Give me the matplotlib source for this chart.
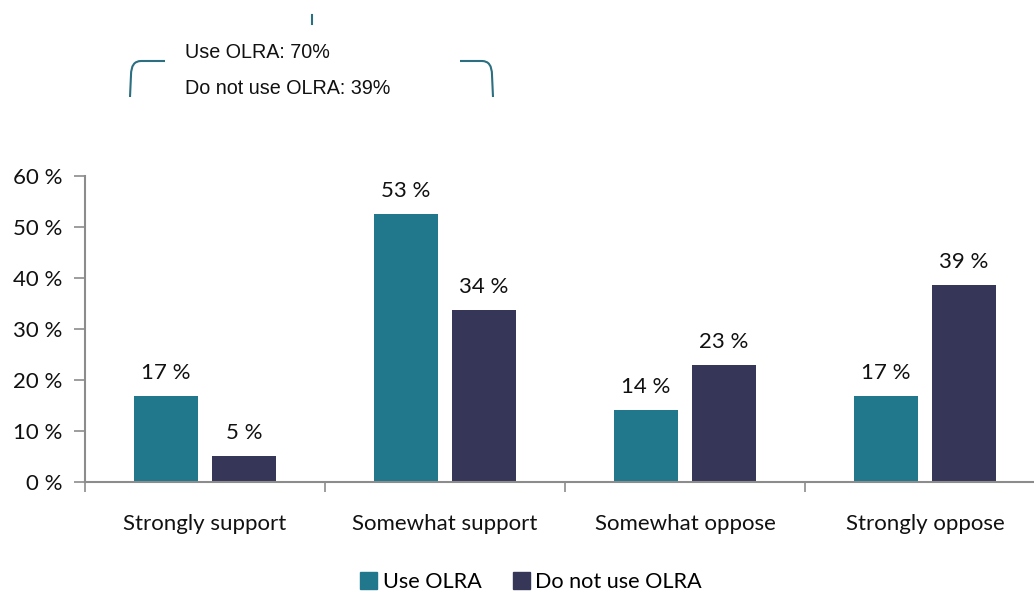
import matplotlib
matplotlib.use("Agg")
import matplotlib.pyplot as plt
from matplotlib.path import Path
from matplotlib.patches import PathPatch, Patch
import numpy as np

categories = ["Strongly support", "Somewhat support", "Somewhat oppose", "Strongly oppose"]
use_olra = [16.9, 52.5, 14.1, 16.9]
no_olra = [5.1, 33.7, 22.9, 38.6]
use_labels = ["17 %", "53 %", "14 %", "17 %"]
no_labels = ["5 %", "34 %", "23 %", "39 %"]
series_names = ["Use OLRA", "Do not use OLRA"]
summary_lines = ["Use OLRA: 70%", "Do not use OLRA: 39%"]
yticks = [0, 10, 20, 30, 40, 50, 60]

teal = "#21788C"
navy = "#363758"
axis_gray = "#8C8C8C"
font = "Lato"
fs = 16

W, H = 1034, 592
fig = plt.figure(figsize=(W / 100, H / 100), dpi=100)

def fx(px):
    return px / W

def fy(py):
    return 1 - py / H

ax = fig.add_axes([fx(85), fy(482), fx(1045) - fx(85), fy(176) - fy(482)])
x = np.arange(len(categories))
bw = 64 / 240
off = 39 / 240
b1 = ax.bar(x - off, use_olra, bw, color=teal, label=series_names[0])
b2 = ax.bar(x + off, no_olra, bw, color=navy, label=series_names[1])
for rect, lab in zip(b1, use_labels):
    ax.text(rect.get_x() + rect.get_width() / 2, rect.get_height() + 2.6, lab,
            ha="center", va="bottom", fontsize=fs, family=font, color="#111111")
for rect, lab in zip(b2, no_labels):
    ax.text(rect.get_x() + rect.get_width() / 2, rect.get_height() + 2.6, lab,
            ha="center", va="bottom", fontsize=fs, family=font, color="#111111")

ax.set_xlim(-0.5, len(categories) - 0.5)
ax.set_ylim(0, 60)
ax.set_yticks(yticks)
ax.set_yticklabels([f"{v} %" for v in yticks], family=font, fontsize=fs, color="#111111")
ax.set_xticks(np.arange(len(categories) + 1) - 0.5)
ax.set_xticklabels([])
ax.set_xticks(x, minor=True)
ax.set_xticklabels(categories, minor=True, family=font, fontsize=fs, color="#111111")
ax.tick_params(axis="x", which="minor", length=0, pad=23)
ax.tick_params(axis="x", which="major", length=7, color=axis_gray, width=1.2, direction="out")
ax.tick_params(axis="y", length=8, color=axis_gray, width=1.2, pad=8)
for s in ["top", "right"]:
    ax.spines[s].set_visible(False)
for s in ["left", "bottom"]:
    ax.spines[s].set_color(axis_gray)
    ax.spines[s].set_linewidth(1.5)

# Legend
handles = [Patch(color=teal), Patch(color=navy)]
fig.legend(handles, series_names, loc="center", bbox_to_anchor=(fx(531), fy(582)),
           ncol=2, frameon=False, prop={"family": font, "size": 15.6},
           handlelength=0.78, handleheight=0.78, handletextpad=0.25, columnspacing=1.45)

# Bracket annotation
def bracket(points):
    verts = [(fx(a), fy(b)) for a, b in points]
    codes = [Path.MOVETO, Path.LINETO, Path.CURVE3, Path.CURVE3, Path.LINETO]
    return PathPatch(Path(verts, codes), transform=fig.transFigure, fill=False,
                     edgecolor="#2B6F80", linewidth=1.5)

fig.patches.append(bracket([(165, 61), (141, 61), (131, 61), (131, 75), (130, 97)]))
fig.patches.append(bracket([(460, 61), (482, 61), (492, 61), (492, 75), (493, 97)]))
fig.add_artist(plt.Line2D([fx(312), fx(312)], [fy(15), fy(24)], transform=fig.transFigure,
                          color="#2B6F80", linewidth=1.5))
fig.text(fx(185), fy(53), summary_lines[0], ha="left", va="center",
         family="Liberation Sans", fontsize=14.2, color="#111111")
fig.text(fx(185), fy(88), summary_lines[1], ha="left", va="center",
         family="Liberation Sans", fontsize=14.2, color="#111111")

fig.savefig("out.png", dpi=100)
